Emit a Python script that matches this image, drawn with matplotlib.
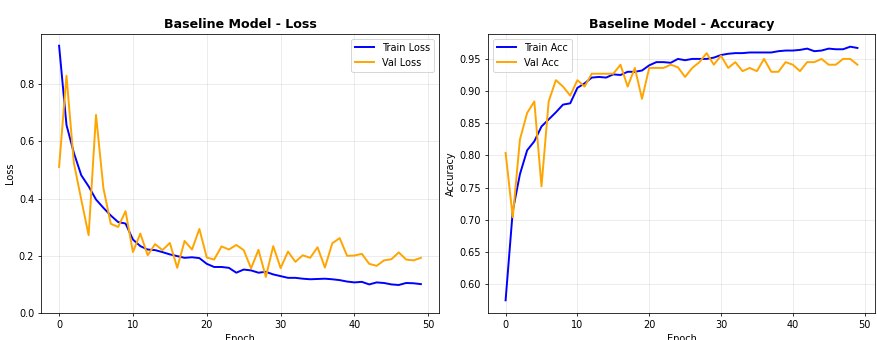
import matplotlib
matplotlib.use("Agg")
import matplotlib.pyplot as plt
import numpy as np

epochs = list(range(50))

train_loss = [0.935, 0.658, 0.560, 0.482, 0.443, 0.397, 0.368, 0.341, 0.318, 0.313,
              0.257, 0.234, 0.222, 0.220, 0.213, 0.205, 0.199, 0.193, 0.195, 0.192,
              0.172, 0.161, 0.161, 0.158, 0.141, 0.152, 0.149, 0.141, 0.144, 0.135,
              0.129, 0.123, 0.123, 0.120, 0.118, 0.119, 0.120, 0.118, 0.115, 0.110,
              0.107, 0.109, 0.100, 0.107, 0.105, 0.100, 0.098, 0.105, 0.104, 0.101]
val_loss = [0.511, 0.830, 0.525, 0.397, 0.272, 0.693, 0.437, 0.312, 0.301, 0.356,
            0.213, 0.278, 0.202, 0.241, 0.220, 0.245, 0.158, 0.252, 0.222, 0.294,
            0.194, 0.187, 0.233, 0.222, 0.238, 0.220, 0.156, 0.221, 0.126, 0.234,
            0.157, 0.215, 0.179, 0.202, 0.193, 0.230, 0.159, 0.244, 0.262, 0.200,
            0.201, 0.207, 0.172, 0.165, 0.184, 0.188, 0.212, 0.187, 0.184, 0.193]
train_acc = [0.575, 0.714, 0.771, 0.808, 0.822, 0.845, 0.856, 0.867, 0.879, 0.881,
             0.905, 0.912, 0.921, 0.922, 0.921, 0.926, 0.925, 0.930, 0.930, 0.932,
             0.940, 0.945, 0.945, 0.944, 0.950, 0.948, 0.950, 0.950, 0.950, 0.952,
             0.956, 0.958, 0.959, 0.959, 0.960, 0.960, 0.960, 0.960, 0.962, 0.963,
             0.963, 0.964, 0.966, 0.962, 0.963, 0.966, 0.965, 0.965, 0.969, 0.967]
val_acc = [0.804, 0.704, 0.825, 0.866, 0.884, 0.752, 0.884, 0.917, 0.907, 0.893,
           0.917, 0.907, 0.927, 0.927, 0.927, 0.927, 0.941, 0.907, 0.936, 0.888,
           0.936, 0.936, 0.936, 0.941, 0.937, 0.922, 0.936, 0.945, 0.959, 0.941,
           0.955, 0.936, 0.945, 0.931, 0.936, 0.931, 0.950, 0.930, 0.930, 0.945,
           0.941, 0.931, 0.945, 0.945, 0.950, 0.941, 0.941, 0.950, 0.950, 0.941]

W, H, DPI = 877, 340, 70
fig = plt.figure(figsize=(W / DPI, H / DPI), dpi=DPI)

def rect(x0, x1, y0, y1):
    return [x0 / W, (H - y1) / H, (x1 - x0) / W, (y1 - y0) / H]

ax1 = fig.add_axes(rect(41, 439, 34, 313))
ax2 = fig.add_axes(rect(488, 875, 34, 313))

ax1.plot(epochs, train_loss, color='blue', lw=2, label='Train Loss')
ax1.plot(epochs, val_loss, color='orange', lw=2, label='Val Loss')
ax1.set_title('Baseline Model - Loss', fontsize=13, fontweight='bold')
ax1.set_xlabel('Epoch')
ax1.set_ylabel('Loss')
ax1.set_ylim(0, 0.976)
ax1.legend(loc='upper right')
ax1.grid(True, alpha=0.3)

ax2.plot(epochs, train_acc, color='blue', lw=2, label='Train Acc')
ax2.plot(epochs, val_acc, color='orange', lw=2, label='Val Acc')
ax2.set_title('Baseline Model - Accuracy', fontsize=13, fontweight='bold')
ax2.set_xlabel('Epoch')
ax2.set_ylabel('Accuracy')
ax2.legend(loc='upper left')
ax2.grid(True, alpha=0.3)

fig.savefig('out.png', dpi=DPI)
